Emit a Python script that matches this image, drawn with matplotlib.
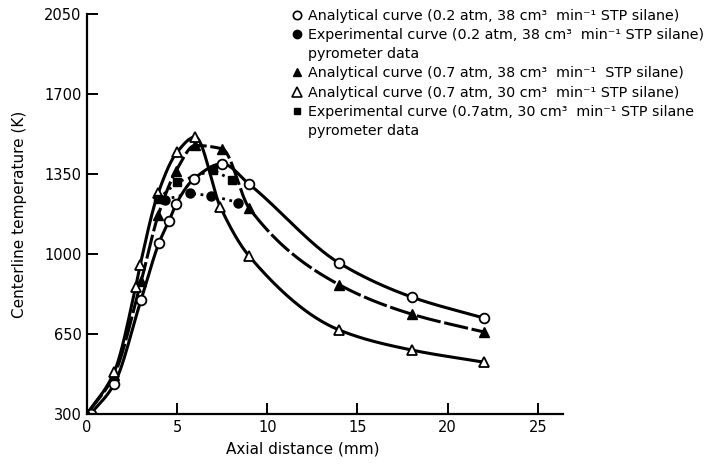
import numpy as np
import matplotlib
matplotlib.use("Agg")
import matplotlib.pyplot as plt
from matplotlib.lines import Line2D

# analytical curve, 0.2 atm, 38 cm3/min (open circles)
a02_x = [0.2, 1.5, 3.0, 4.0, 4.55, 4.95, 5.95, 7.5, 9.0, 14.0, 18.0, 22.0]
a02_y = [300, 430, 800, 1050, 1145, 1220, 1330, 1395, 1305, 960, 812, 720]

# experimental, 0.2 atm, 38 cm3/min (filled circles)
e02_x = [4.3, 5.7, 6.9, 8.4]
e02_y = [1238, 1265, 1255, 1225]

# analytical curve, 0.7 atm, 38 cm3/min (filled triangles)
a07_38_x = [0.0, 1.5, 3.0, 3.95, 4.95, 6.0, 7.5, 9.0, 14.0, 18.0, 22.0]
a07_38_y = [300, 470, 880, 1170, 1365, 1475, 1460, 1200, 865, 737, 659]

# analytical curve, 0.7 atm, 30 cm3/min (open triangles)
a07_30_x = [0.0, 1.5, 2.7, 2.95, 3.95, 5.0, 6.0, 7.4, 9.0, 14.0, 18.0, 22.0]
a07_30_y = [300, 482, 856, 952, 1267, 1446, 1512, 1205, 990, 667, 580, 527]

# experimental, 0.7 atm, 30 cm3/min (filled squares)
e07_x = [3.95, 5.0, 7.0, 8.05]
e07_y = [1240, 1315, 1367, 1324]

labels = [
    "Analytical curve (0.2 atm, 38 cm³  min⁻¹ STP silane)",
    "Experimental curve (0.2 atm, 38 cm³  min⁻¹ STP silane)",
    "pyrometer data",
    "Analytical curve (0.7 atm, 38 cm³  min⁻¹  STP silane)",
    "Analytical curve (0.7 atm, 30 cm³  min⁻¹ STP silane)",
    "Experimental curve (0.7atm, 30 cm³  min⁻¹ STP silane",
    "pyrometer data",
]

x_ticks = [0, 5, 10, 15, 20, 25]
y_ticks = [300, 650, 1000, 1350, 1700, 2050]


def smooth(x, y, n=40):
    # shape-preserving cubic (pchip style) through the points, only to draw the line
    x = np.asarray(x, float)
    y = np.asarray(y, float)
    h = np.diff(x)
    d = np.diff(y) / h
    m = np.zeros_like(y)
    for i in range(1, len(x) - 1):
        if d[i - 1] * d[i] > 0:
            w1 = 2 * h[i] + h[i - 1]
            w2 = h[i] + 2 * h[i - 1]
            m[i] = (w1 + w2) / (w1 / d[i - 1] + w2 / d[i])
    m[0] = d[0]
    m[-1] = d[-1]
    xs, ys = [], []
    for i in range(len(x) - 1):
        t = np.linspace(0, 1, n)
        h00 = 2 * t**3 - 3 * t**2 + 1
        h10 = t**3 - 2 * t**2 + t
        h01 = -2 * t**3 + 3 * t**2
        h11 = t**3 - t**2
        xs.append(x[i] + t * h[i])
        ys.append(h00 * y[i] + h10 * h[i] * m[i] + h01 * y[i + 1] + h11 * h[i] * m[i + 1])
    return np.concatenate(xs), np.concatenate(ys)


fig = plt.figure(figsize=(7.09, 4.66), dpi=100)
ax = fig.add_axes([87 / 709, 1 - 414 / 466, 476 / 709, 400 / 466])

lw = 2.2
sx, sy = smooth(a02_x, a02_y)
ax.plot(sx, sy, color="black", lw=lw)
sx, sy = smooth(a07_38_x, a07_38_y)
ax.plot(sx, sy, color="black", lw=lw, dashes=(8, 1.2))
sx, sy = smooth(a07_30_x, a07_30_y)
ax.plot(sx, sy, color="black", lw=lw)
ax.plot(e02_x, e02_y, color="black", lw=2, ls=":")
ax.plot(e07_x, e07_y, color="black", lw=2, ls=":")

ax.plot(a02_x, a02_y, "o", ms=7, mfc="white", mec="black", mew=1.3, ls="none")
ax.plot(a07_38_x, a07_38_y, "^", ms=7, mfc="black", mec="black", ls="none")
ax.plot(a07_30_x, a07_30_y, "^", ms=7.5, mfc="white", mec="black", mew=1.3, ls="none")
ax.plot(e02_x, e02_y, "o", ms=6.5, mfc="black", mec="black", ls="none")
ax.plot(e07_x, e07_y, "s", ms=6, mfc="black", mec="black", ls="none")

ax.set_xlim(0, 26.4)
ax.set_ylim(300, 2050)
ax.set_xticks(x_ticks)
ax.set_yticks(y_ticks)
for s in ["top", "right"]:
    ax.spines[s].set_visible(False)
for s in ["left", "bottom"]:
    ax.spines[s].set_linewidth(1.6)
ax.tick_params(direction="in", length=8, width=1.4, labelsize=10.5, pad=4)

ax.set_xlabel("Axial distance (mm)", fontsize=11)
ax.set_ylabel("Centerline temperature (K)", fontsize=11)
ax.xaxis.set_label_coords((303 - 87) / 476, -0.07)
ax.yaxis.set_label_coords(-0.125, 0.5)

handles = [
    Line2D([], [], ls="none", marker="o", ms=6, mfc="white", mec="black", mew=1.2),
    Line2D([], [], ls="none", marker="o", ms=6, mfc="black", mec="black"),
    Line2D([], [], ls="none", marker=None),
    Line2D([], [], ls="none", marker="^", ms=6, mfc="black", mec="black"),
    Line2D([], [], ls="none", marker="^", ms=6.5, mfc="white", mec="black", mew=1.2),
    Line2D([], [], ls="none", marker="s", ms=5, mfc="black", mec="black"),
    Line2D([], [], ls="none", marker=None),
]
fig.legend(handles, labels, loc="upper left", bbox_to_anchor=(291 / 709, 1 - 9 / 466),
           frameon=False, fontsize=10.3, handlelength=0.8, handletextpad=0.4,
           labelspacing=0.36, borderpad=0, borderaxespad=0)

fig.savefig("out.png", dpi=100)
